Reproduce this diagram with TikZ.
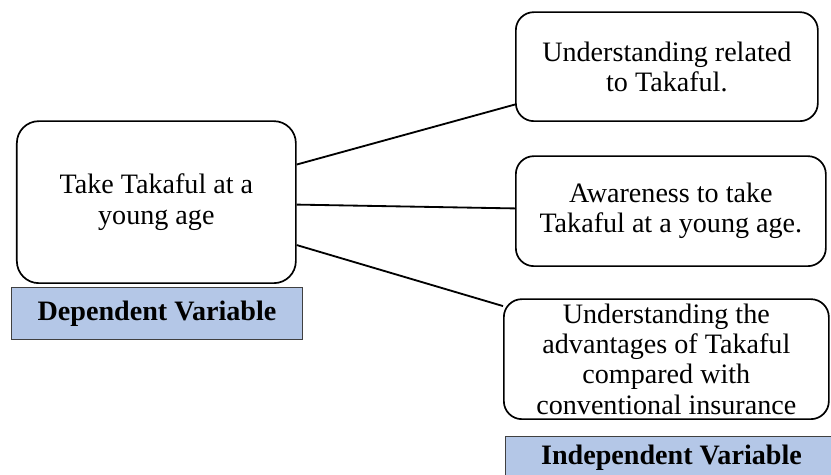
\documentclass[tikz,border=0pt]{standalone}
\usepackage{fontspec}
\setmainfont{Liberation Serif}
\definecolor{varblue}{HTML}{B4C7E7}
\tikzset{
  varbox/.style={rectangle, draw=black, line width=1.2pt, fill=white, rounded corners=0.45cm, align=center, font=\fontsize{20}{21.5}\selectfont, anchor=south west},
  labelbox/.style={rectangle, draw=black!75, line width=0.7pt, fill=varblue, font=\fontsize{20}{21.5}\selectfont\bfseries, anchor=south west},
  link/.style={draw=black, line width=1.3pt}
}
\begin{document}
\begin{tikzpicture}

\useasboundingbox (0,0) rectangle (20.775,11.875);

\node at (0.4,4.775)[varbox, rounded corners=0.55cm, minimum height = 4.05cm, minimum width = 6.975cm] (take) {Take Takaful at a\\young age};
\node at (0.275,3.375)[labelbox, minimum height = 1.3cm, minimum width = 7.275cm] (dependent) {Dependent Variable};

\node at (12.875,8.825)[varbox, minimum height = 2.725cm, minimum width = 7.55cm] (understand) {Understanding related\\to Takaful.};
\node at (12.875,5.2)[varbox, minimum height = 2.75cm, minimum width = 7.75cm] (aware) {Awareness to take\\Takaful at a young age.};
\node at (12.575,1.375)[varbox, minimum height = 3.0cm, minimum width = 8.125cm] (advantage) {Understanding the\\advantages of Takaful\\compared with\\conventional insurance};
\node at (12.625,-0.1)[labelbox, minimum height = 1.05cm, minimum width = 8.3cm] (independent) {Independent Variable};

\draw[link] (take.15) -- (understand.194.7);
\draw[link] (take.-1) -- (aware.179);
\draw[link] (take.-17) -- (advantage.162.3);

\end{tikzpicture}
\end{document}
